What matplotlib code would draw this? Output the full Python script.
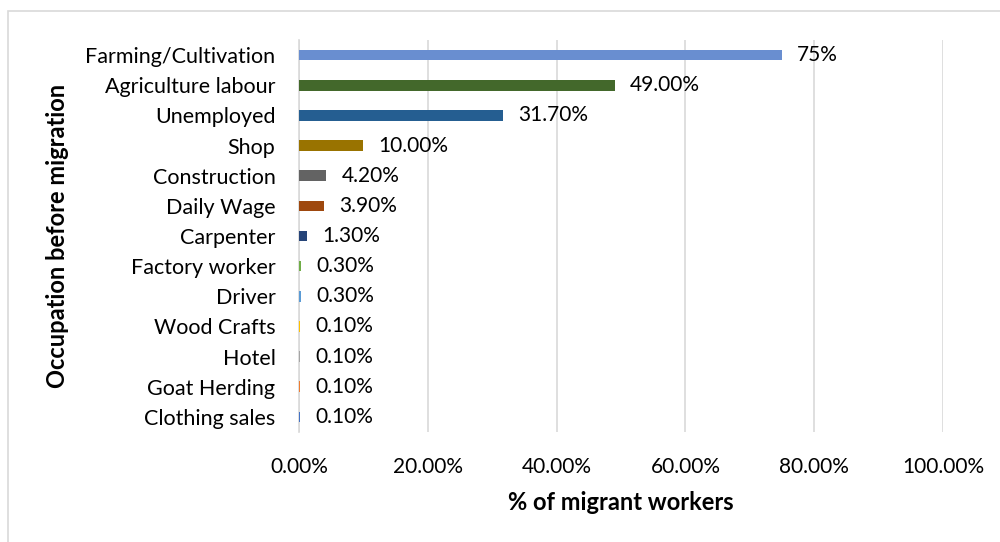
import matplotlib
matplotlib.use("Agg")
import matplotlib.pyplot as plt
from matplotlib.patches import Rectangle
from matplotlib.ticker import FuncFormatter

plt.rcParams['font.family'] = ['Lato', 'DejaVu Sans']

categories = ["Farming/Cultivation", "Agriculture labour", "Unemployed", "Shop",
              "Construction", "Daily Wage", "Carpenter", "Factory worker",
              "Driver", "Wood Crafts", "Hotel", "Goat Herding", "Clothing sales"]
values = [75, 49.0, 31.7, 10.0, 4.2, 3.9, 1.3, 0.3, 0.3, 0.1, 0.1, 0.1, 0.1]
value_labels = ["75%", "49.00%", "31.70%", "10.00%", "4.20%", "3.90%", "1.30%",
                "0.30%", "0.30%", "0.10%", "0.10%", "0.10%", "0.10%"]
colors = ["#698ED0", "#43682B", "#255E91", "#997300", "#636363", "#9E480E",
          "#264478", "#70AD47", "#5B9BD5", "#FFC000", "#A5A5A5", "#ED7D31",
          "#4472C4"]
x_ticks = [0, 20, 40, 60, 80, 100]

fig = plt.figure(figsize=(10, 5.42), dpi=100)
ax = fig.add_axes([0.299, 0.203, 0.644, 0.723])

y = list(range(len(categories)))
ax.barh(y, values, height=0.35, color=colors, zorder=3)

for yi, v, lab in zip(y, values, value_labels):
    ax.annotate(lab, xy=(v, yi), xytext=(11, 0), textcoords="offset points",
                ha="left", va="center", fontsize=15, color="#000000")

ax.set_ylim(len(categories) - 0.5, -0.5)
ax.set_xlim(0, 100)
ax.set_yticks(y)
ax.set_yticklabels(categories, fontsize=15.5)
ax.set_xticks(x_ticks)
ax.xaxis.set_major_formatter(FuncFormatter(lambda v, p: f"{v:.2f}%"))
ax.tick_params(axis="x", labelsize=15, length=0, pad=18)
ax.tick_params(axis="y", length=0, pad=17)

ax.grid(axis="x", color="#D9D9D9", linewidth=1.2, zorder=0)
for s in ["top", "right", "bottom"]:
    ax.spines[s].set_visible(False)
ax.spines["left"].set_color("#D9D9D9")
ax.spines["left"].set_linewidth(1.2)

ax.set_xlabel("% of migrant workers", fontsize=17, fontweight="bold", labelpad=10)
ax.set_ylabel("Occupation before migration", fontsize=17, fontweight="bold", labelpad=12)

fig.patches.append(Rectangle((0.008, -0.05), 1.1, 1.0297,
                             transform=fig.transFigure, fill=False,
                             edgecolor="#D9D9D9", linewidth=1.2, clip_on=False))

fig.savefig("out.png", dpi=100)
